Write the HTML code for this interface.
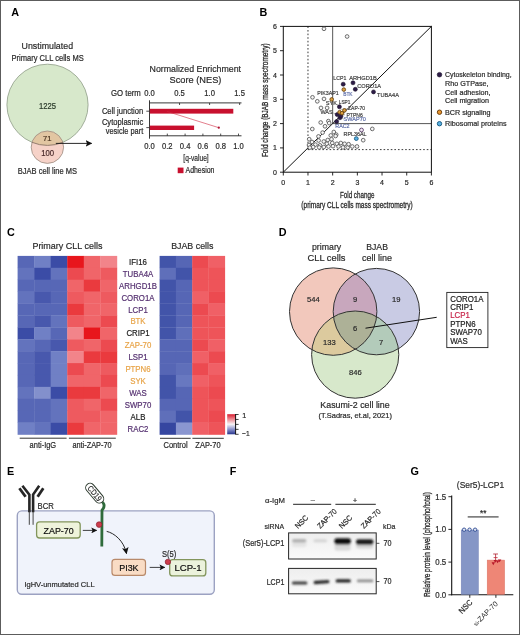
<!DOCTYPE html><html><head><meta charset="utf-8"><style>html,body{margin:0;padding:0;background:#fff;width:520px;height:635px;overflow:hidden}svg{display:block;will-change:transform}text{font-family:"Liberation Sans",sans-serif}</style></head><body>
<svg width="520" height="635" viewBox="0 0 520 635">
<defs><marker id="ah" viewBox="0 0 10 10" refX="9" refY="5" markerWidth="5" markerHeight="5" orient="auto-start-reverse"><path d="M0,0 L10,5 L0,10 z" fill="#111"/></marker><marker id="ah2" viewBox="0 0 10 10" refX="9" refY="5" markerWidth="7.4" markerHeight="7.4" orient="auto-start-reverse"><path d="M0,0 L10,5 L0,10 L2.2,5 z" fill="#111"/></marker><linearGradient id="cbar" x1="0" y1="0" x2="0" y2="1"><stop offset="0" stop-color="#d81e30"/><stop offset="0.25" stop-color="#ee8a92"/><stop offset="0.5" stop-color="#f8f4f6"/><stop offset="0.75" stop-color="#8c92cc"/><stop offset="1" stop-color="#27358e"/></linearGradient></defs>
<rect x="0.00" y="0.00" width="520.00" height="635.00" fill="#fff"/>
<text x="11.20" y="15.90" font-size="10.8" fill="#000" font-weight="bold">A</text>
<text x="259.60" y="16.30" font-size="10.8" fill="#000" font-weight="bold">B</text>
<text x="7.00" y="235.60" font-size="10.8" fill="#000" font-weight="bold">C</text>
<text x="278.80" y="235.50" font-size="10.8" fill="#000" font-weight="bold">D</text>
<text x="6.90" y="474.60" font-size="10.8" fill="#000" font-weight="bold">E</text>
<text x="229.80" y="474.60" font-size="10.8" fill="#000" font-weight="bold">F</text>
<text x="410.40" y="474.80" font-size="10.8" fill="#000" font-weight="bold">G</text>
<text x="47.30" y="49.00" font-size="9.94" text-anchor="middle" fill="#2a2a2a" stroke="#2a2a2a" stroke-width="0.2" textLength="51.50" lengthAdjust="spacingAndGlyphs">Unstimulated</text>
<text x="47.60" y="60.60" font-size="8.21" text-anchor="middle" fill="#2a2a2a" stroke="#2a2a2a" stroke-width="0.2" textLength="72.20" lengthAdjust="spacingAndGlyphs">Primary CLL cells MS</text>
<circle cx="47.50" cy="104.80" r="40.60" fill="#d7e8cb" stroke="#8e9c86" stroke-width="0.8"/>
<clipPath id="bigc"><circle cx="47.5" cy="104.8" r="40.6"/></clipPath>
<circle cx="47.40" cy="147.20" r="16.20" fill="#f6d2c8" stroke="none" stroke-width="1"/>
<g clip-path="url(#bigc)">
<circle cx="47.40" cy="147.20" r="16.20" fill="#e2c6a2" stroke="none" stroke-width="1"/>
</g>
<circle cx="47.40" cy="147.20" r="16.20" fill="none" stroke="#9a8c80" stroke-width="0.8"/>
<clipPath id="smc"><circle cx="47.4" cy="147.2" r="16.2"/></clipPath>
<g clip-path="url(#smc)"><circle cx="47.5" cy="104.8" r="40.6" fill="none" stroke="#8a7466" stroke-width="0.9"/></g>
<text x="47.60" y="109.20" font-size="8.42" text-anchor="middle" fill="#2a3a2a" stroke="#2a3a2a" stroke-width="0.2" textLength="17.00" lengthAdjust="spacingAndGlyphs">1225</text>
<text x="47.20" y="140.80" font-size="7.6" text-anchor="middle" fill="#4a3420" stroke="#4a3420" stroke-width="0.2">71</text>
<text x="47.70" y="156.20" font-size="8.42" text-anchor="middle" fill="#4a2a2a" stroke="#4a2a2a" stroke-width="0.2" textLength="12.90" lengthAdjust="spacingAndGlyphs">100</text>
<text x="47.40" y="173.50" font-size="8.21" text-anchor="middle" fill="#2a2a2a" stroke="#2a2a2a" stroke-width="0.2" textLength="59.30" lengthAdjust="spacingAndGlyphs">BJAB cell line MS</text>
<line x1="55.80" y1="143.40" x2="91.60" y2="143.40" stroke="#111" stroke-width="0.9" marker-end="url(#ah2)"/>
<text x="195.30" y="72.30" font-size="9.94" text-anchor="middle" fill="#2a2a2a" stroke="#2a2a2a" stroke-width="0.2" textLength="91.50" lengthAdjust="spacingAndGlyphs">Normalized Enrichment</text>
<text x="195.50" y="83.10" font-size="9.94" text-anchor="middle" fill="#2a2a2a" stroke="#2a2a2a" stroke-width="0.2" textLength="51.80" lengthAdjust="spacingAndGlyphs">Score (NES)</text>
<text x="140.80" y="95.60" font-size="8.42" text-anchor="end" fill="#2a2a2a" stroke="#2a2a2a" stroke-width="0.2" textLength="29.80" lengthAdjust="spacingAndGlyphs">GO term</text>
<text x="149.50" y="95.60" font-size="8.42" text-anchor="middle" fill="#2a2a2a" stroke="#2a2a2a" stroke-width="0.2" textLength="10.60" lengthAdjust="spacingAndGlyphs">0.0</text>
<text x="179.55" y="95.60" font-size="8.42" text-anchor="middle" fill="#2a2a2a" stroke="#2a2a2a" stroke-width="0.2" textLength="10.60" lengthAdjust="spacingAndGlyphs">0.5</text>
<line x1="179.55" y1="102.90" x2="179.55" y2="105.00" stroke="#222" stroke-width="0.8"/>
<text x="209.60" y="95.60" font-size="8.42" text-anchor="middle" fill="#2a2a2a" stroke="#2a2a2a" stroke-width="0.2" textLength="10.60" lengthAdjust="spacingAndGlyphs">1.0</text>
<line x1="209.60" y1="102.90" x2="209.60" y2="105.00" stroke="#222" stroke-width="0.8"/>
<text x="239.65" y="95.60" font-size="8.42" text-anchor="middle" fill="#2a2a2a" stroke="#2a2a2a" stroke-width="0.2" textLength="10.60" lengthAdjust="spacingAndGlyphs">1.5</text>
<line x1="239.65" y1="102.90" x2="239.65" y2="105.00" stroke="#222" stroke-width="0.8"/>
<line x1="149.50" y1="102.90" x2="241.50" y2="102.90" stroke="#222" stroke-width="0.9"/>
<line x1="149.50" y1="135.80" x2="241.50" y2="135.80" stroke="#222" stroke-width="0.9"/>
<line x1="149.50" y1="100.30" x2="149.50" y2="138.70" stroke="#222" stroke-width="0.9"/>
<line x1="167.30" y1="135.80" x2="167.30" y2="133.60" stroke="#222" stroke-width="0.8"/>
<line x1="185.10" y1="135.80" x2="185.10" y2="133.60" stroke="#222" stroke-width="0.8"/>
<line x1="202.90" y1="135.80" x2="202.90" y2="133.60" stroke="#222" stroke-width="0.8"/>
<line x1="220.70" y1="135.80" x2="220.70" y2="133.60" stroke="#222" stroke-width="0.8"/>
<line x1="238.50" y1="135.80" x2="238.50" y2="133.60" stroke="#222" stroke-width="0.8"/>
<text x="149.50" y="148.60" font-size="8.42" text-anchor="middle" fill="#2a2a2a" stroke="#2a2a2a" stroke-width="0.2" textLength="10.60" lengthAdjust="spacingAndGlyphs">0.0</text>
<text x="167.30" y="148.60" font-size="8.42" text-anchor="middle" fill="#2a2a2a" stroke="#2a2a2a" stroke-width="0.2" textLength="10.60" lengthAdjust="spacingAndGlyphs">0.2</text>
<text x="185.10" y="148.60" font-size="8.42" text-anchor="middle" fill="#2a2a2a" stroke="#2a2a2a" stroke-width="0.2" textLength="10.60" lengthAdjust="spacingAndGlyphs">0.4</text>
<text x="202.90" y="148.60" font-size="8.42" text-anchor="middle" fill="#2a2a2a" stroke="#2a2a2a" stroke-width="0.2" textLength="10.60" lengthAdjust="spacingAndGlyphs">0.6</text>
<text x="220.70" y="148.60" font-size="8.42" text-anchor="middle" fill="#2a2a2a" stroke="#2a2a2a" stroke-width="0.2" textLength="10.60" lengthAdjust="spacingAndGlyphs">0.8</text>
<text x="238.50" y="148.60" font-size="8.42" text-anchor="middle" fill="#2a2a2a" stroke="#2a2a2a" stroke-width="0.2" textLength="10.60" lengthAdjust="spacingAndGlyphs">1.0</text>
<line x1="146.30" y1="111.20" x2="149.50" y2="111.20" stroke="#222" stroke-width="0.8"/>
<line x1="146.30" y1="127.60" x2="149.50" y2="127.60" stroke="#222" stroke-width="0.8"/>
<rect x="149.90" y="108.80" width="83.40" height="4.80" fill="#c8102e"/>
<rect x="149.90" y="125.60" width="44.20" height="4.40" fill="#c8102e"/>
<line x1="166.90" y1="111.40" x2="218.80" y2="127.70" stroke="#d02840" stroke-width="0.6"/>
<circle cx="218.80" cy="127.70" r="1.10" fill="#b01030" stroke="none" stroke-width="1"/>
<text x="143.20" y="113.50" font-size="8.21" text-anchor="end" fill="#2a2a2a" stroke="#2a2a2a" stroke-width="0.2" textLength="41.30" lengthAdjust="spacingAndGlyphs">Cell junction</text>
<text x="143.20" y="125.40" font-size="8.21" text-anchor="end" fill="#2a2a2a" stroke="#2a2a2a" stroke-width="0.2" textLength="41.30" lengthAdjust="spacingAndGlyphs">Cytoplasmic</text>
<text x="143.20" y="134.30" font-size="8.21" text-anchor="end" fill="#2a2a2a" stroke="#2a2a2a" stroke-width="0.2" textLength="37.40" lengthAdjust="spacingAndGlyphs">vesicle part</text>
<text x="196.00" y="161.30" font-size="8.86" text-anchor="middle" fill="#2a2a2a" stroke="#2a2a2a" stroke-width="0.2" textLength="25.40" lengthAdjust="spacingAndGlyphs">[q-value]</text>
<rect x="177.70" y="167.60" width="5.80" height="5.60" fill="#c8102e"/>
<text x="185.50" y="173.00" font-size="8.21" fill="#2a2a2a" stroke="#2a2a2a" stroke-width="0.2" textLength="29.00" lengthAdjust="spacingAndGlyphs">Adhesion</text>
<line x1="307.98" y1="26.40" x2="307.98" y2="149.60" stroke="#222" stroke-width="0.9" stroke-dasharray="1.6,2.0"/>
<line x1="307.98" y1="149.60" x2="431.40" y2="149.60" stroke="#222" stroke-width="0.9" stroke-dasharray="1.6,2.0"/>
<line x1="332.67" y1="26.40" x2="332.67" y2="123.60" stroke="#444" stroke-width="0.9"/>
<line x1="332.67" y1="123.60" x2="431.40" y2="123.60" stroke="#444" stroke-width="0.9"/>
<line x1="283.30" y1="172.20" x2="431.40" y2="26.40" stroke="#111" stroke-width="1.0"/>
<rect x="283.30" y="26.40" width="148.10" height="145.80" fill="none" stroke="#111" stroke-width="1"/>
<line x1="280.00" y1="172.20" x2="283.30" y2="172.20" stroke="#111" stroke-width="0.9"/>
<text x="277.00" y="174.70" font-size="7.0" text-anchor="end" fill="#2a2a2a" stroke="#2a2a2a" stroke-width="0.2">0</text>
<line x1="283.30" y1="172.20" x2="283.30" y2="175.50" stroke="#111" stroke-width="0.9"/>
<text x="283.30" y="184.60" font-size="7.0" text-anchor="middle" fill="#2a2a2a" stroke="#2a2a2a" stroke-width="0.2">0</text>
<line x1="280.00" y1="147.90" x2="283.30" y2="147.90" stroke="#111" stroke-width="0.9"/>
<text x="277.00" y="150.40" font-size="7.0" text-anchor="end" fill="#2a2a2a" stroke="#2a2a2a" stroke-width="0.2">1</text>
<line x1="307.98" y1="172.20" x2="307.98" y2="175.50" stroke="#111" stroke-width="0.9"/>
<text x="307.98" y="184.60" font-size="7.0" text-anchor="middle" fill="#2a2a2a" stroke="#2a2a2a" stroke-width="0.2">1</text>
<line x1="280.00" y1="123.60" x2="283.30" y2="123.60" stroke="#111" stroke-width="0.9"/>
<text x="277.00" y="126.10" font-size="7.0" text-anchor="end" fill="#2a2a2a" stroke="#2a2a2a" stroke-width="0.2">2</text>
<line x1="332.67" y1="172.20" x2="332.67" y2="175.50" stroke="#111" stroke-width="0.9"/>
<text x="332.67" y="184.60" font-size="7.0" text-anchor="middle" fill="#2a2a2a" stroke="#2a2a2a" stroke-width="0.2">2</text>
<line x1="280.00" y1="99.30" x2="283.30" y2="99.30" stroke="#111" stroke-width="0.9"/>
<text x="277.00" y="101.80" font-size="7.0" text-anchor="end" fill="#2a2a2a" stroke="#2a2a2a" stroke-width="0.2">3</text>
<line x1="357.35" y1="172.20" x2="357.35" y2="175.50" stroke="#111" stroke-width="0.9"/>
<text x="357.35" y="184.60" font-size="7.0" text-anchor="middle" fill="#2a2a2a" stroke="#2a2a2a" stroke-width="0.2">3</text>
<line x1="280.00" y1="75.00" x2="283.30" y2="75.00" stroke="#111" stroke-width="0.9"/>
<text x="277.00" y="77.50" font-size="7.0" text-anchor="end" fill="#2a2a2a" stroke="#2a2a2a" stroke-width="0.2">4</text>
<line x1="382.03" y1="172.20" x2="382.03" y2="175.50" stroke="#111" stroke-width="0.9"/>
<text x="382.03" y="184.60" font-size="7.0" text-anchor="middle" fill="#2a2a2a" stroke="#2a2a2a" stroke-width="0.2">4</text>
<line x1="280.00" y1="50.70" x2="283.30" y2="50.70" stroke="#111" stroke-width="0.9"/>
<text x="277.00" y="53.20" font-size="7.0" text-anchor="end" fill="#2a2a2a" stroke="#2a2a2a" stroke-width="0.2">5</text>
<line x1="406.72" y1="172.20" x2="406.72" y2="175.50" stroke="#111" stroke-width="0.9"/>
<text x="406.72" y="184.60" font-size="7.0" text-anchor="middle" fill="#2a2a2a" stroke="#2a2a2a" stroke-width="0.2">5</text>
<line x1="280.00" y1="26.40" x2="283.30" y2="26.40" stroke="#111" stroke-width="0.9"/>
<text x="277.00" y="28.90" font-size="7.0" text-anchor="end" fill="#2a2a2a" stroke="#2a2a2a" stroke-width="0.2">6</text>
<line x1="431.40" y1="172.20" x2="431.40" y2="175.50" stroke="#111" stroke-width="0.9"/>
<text x="431.40" y="184.60" font-size="7.0" text-anchor="middle" fill="#2a2a2a" stroke="#2a2a2a" stroke-width="0.2">6</text>
<text x="357.20" y="197.60" font-size="9.29" text-anchor="middle" fill="#2a2a2a" stroke="#2a2a2a" stroke-width="0.3" textLength="34.50" lengthAdjust="spacingAndGlyphs">Fold change</text>
<text x="357.00" y="208.20" font-size="9.07" text-anchor="middle" fill="#2a2a2a" stroke="#2a2a2a" stroke-width="0.3" textLength="111.30" lengthAdjust="spacingAndGlyphs">(primary CLL cells mass spectrometry)</text>
<text x="267.80" y="100.20" font-size="9.5" text-anchor="middle" fill="#2a2a2a" stroke="#2a2a2a" stroke-width="0.3" textLength="113.70" lengthAdjust="spacingAndGlyphs" transform="rotate(-90 267.80 100.20)">Fold change (BJAB mass spectrometry)</text>
<circle cx="324.00" cy="28.80" r="1.85" fill="#f6f6f6" stroke="#555" stroke-width="0.85"/>
<circle cx="347.10" cy="36.50" r="1.85" fill="#f6f6f6" stroke="#555" stroke-width="0.85"/>
<circle cx="312.50" cy="97.30" r="1.85" fill="#f6f6f6" stroke="#555" stroke-width="0.85"/>
<circle cx="317.30" cy="101.30" r="1.85" fill="#f6f6f6" stroke="#555" stroke-width="0.85"/>
<circle cx="324.00" cy="98.90" r="1.85" fill="#f6f6f6" stroke="#555" stroke-width="0.85"/>
<circle cx="321.00" cy="107.90" r="1.85" fill="#f6f6f6" stroke="#555" stroke-width="0.85"/>
<circle cx="327.10" cy="107.90" r="1.85" fill="#f6f6f6" stroke="#555" stroke-width="0.85"/>
<circle cx="320.70" cy="122.50" r="1.85" fill="#f6f6f6" stroke="#555" stroke-width="0.85"/>
<circle cx="328.40" cy="121.10" r="1.85" fill="#f6f6f6" stroke="#555" stroke-width="0.85"/>
<circle cx="325.00" cy="126.30" r="1.85" fill="#f6f6f6" stroke="#555" stroke-width="0.85"/>
<circle cx="329.20" cy="123.10" r="1.85" fill="#f6f6f6" stroke="#555" stroke-width="0.85"/>
<circle cx="312.30" cy="129.00" r="1.85" fill="#f6f6f6" stroke="#555" stroke-width="0.85"/>
<circle cx="333.80" cy="132.00" r="1.85" fill="#f6f6f6" stroke="#555" stroke-width="0.85"/>
<circle cx="336.20" cy="134.60" r="1.85" fill="#f6f6f6" stroke="#555" stroke-width="0.85"/>
<circle cx="330.80" cy="135.40" r="1.85" fill="#f6f6f6" stroke="#555" stroke-width="0.85"/>
<circle cx="318.50" cy="136.40" r="1.85" fill="#f6f6f6" stroke="#555" stroke-width="0.85"/>
<circle cx="335.60" cy="136.00" r="1.85" fill="#f6f6f6" stroke="#555" stroke-width="0.85"/>
<circle cx="309.20" cy="139.20" r="1.85" fill="#f6f6f6" stroke="#555" stroke-width="0.85"/>
<circle cx="312.00" cy="142.00" r="1.85" fill="#f6f6f6" stroke="#555" stroke-width="0.85"/>
<circle cx="309.00" cy="145.00" r="1.85" fill="#f6f6f6" stroke="#555" stroke-width="0.85"/>
<circle cx="315.40" cy="144.60" r="1.85" fill="#f6f6f6" stroke="#555" stroke-width="0.85"/>
<circle cx="320.00" cy="145.40" r="1.85" fill="#f6f6f6" stroke="#555" stroke-width="0.85"/>
<circle cx="323.80" cy="141.50" r="1.85" fill="#f6f6f6" stroke="#555" stroke-width="0.85"/>
<circle cx="327.70" cy="140.00" r="1.85" fill="#f6f6f6" stroke="#555" stroke-width="0.85"/>
<circle cx="331.50" cy="139.20" r="1.85" fill="#f6f6f6" stroke="#555" stroke-width="0.85"/>
<circle cx="326.90" cy="143.80" r="1.85" fill="#f6f6f6" stroke="#555" stroke-width="0.85"/>
<circle cx="332.30" cy="143.00" r="1.85" fill="#f6f6f6" stroke="#555" stroke-width="0.85"/>
<circle cx="336.90" cy="143.80" r="1.85" fill="#f6f6f6" stroke="#555" stroke-width="0.85"/>
<circle cx="340.80" cy="143.00" r="1.85" fill="#f6f6f6" stroke="#555" stroke-width="0.85"/>
<circle cx="344.60" cy="143.80" r="1.85" fill="#f6f6f6" stroke="#555" stroke-width="0.85"/>
<circle cx="319.20" cy="147.40" r="1.85" fill="#f6f6f6" stroke="#555" stroke-width="0.85"/>
<circle cx="323.80" cy="147.00" r="1.85" fill="#f6f6f6" stroke="#555" stroke-width="0.85"/>
<circle cx="328.50" cy="146.50" r="1.85" fill="#f6f6f6" stroke="#555" stroke-width="0.85"/>
<circle cx="333.00" cy="146.20" r="1.85" fill="#f6f6f6" stroke="#555" stroke-width="0.85"/>
<circle cx="338.50" cy="146.50" r="1.85" fill="#f6f6f6" stroke="#555" stroke-width="0.85"/>
<circle cx="343.00" cy="147.40" r="1.85" fill="#f6f6f6" stroke="#555" stroke-width="0.85"/>
<circle cx="347.70" cy="147.40" r="1.85" fill="#f6f6f6" stroke="#555" stroke-width="0.85"/>
<circle cx="352.30" cy="146.50" r="1.85" fill="#f6f6f6" stroke="#555" stroke-width="0.85"/>
<circle cx="357.00" cy="146.50" r="1.85" fill="#f6f6f6" stroke="#555" stroke-width="0.85"/>
<circle cx="372.30" cy="128.90" r="1.85" fill="#f6f6f6" stroke="#555" stroke-width="0.85"/>
<circle cx="363.20" cy="140.20" r="1.85" fill="#f6f6f6" stroke="#555" stroke-width="0.85"/>
<circle cx="318.60" cy="140.50" r="1.85" fill="#f6f6f6" stroke="#555" stroke-width="0.85"/>
<circle cx="313.20" cy="147.00" r="1.85" fill="#f6f6f6" stroke="#555" stroke-width="0.85"/>
<circle cx="309.80" cy="147.60" r="1.85" fill="#f6f6f6" stroke="#555" stroke-width="0.85"/>
<circle cx="348.60" cy="144.20" r="1.85" fill="#f6f6f6" stroke="#555" stroke-width="0.85"/>
<circle cx="322.60" cy="132.60" r="1.85" fill="#f6f6f6" stroke="#555" stroke-width="0.85"/>
<circle cx="361.50" cy="130.00" r="1.90" fill="#f4eef6" stroke="#4a2a5a" stroke-width="0.8"/>
<text x="333.30" y="80.10" font-size="6.26" fill="#3c3c3c" stroke="#3c3c3c" stroke-width="0.2" textLength="13.00" lengthAdjust="spacingAndGlyphs">LCP1</text>
<text x="349.20" y="80.10" font-size="6.26" fill="#3c3c3c" stroke="#3c3c3c" stroke-width="0.2" textLength="27.60" lengthAdjust="spacingAndGlyphs">ARHGD1B</text>
<text x="357.30" y="88.30" font-size="6.26" fill="#3c3c3c" stroke="#3c3c3c" stroke-width="0.2" textLength="23.70" lengthAdjust="spacingAndGlyphs">CORO1A</text>
<text x="377.10" y="96.50" font-size="6.26" fill="#3c3c3c" stroke="#3c3c3c" stroke-width="0.2" textLength="21.80" lengthAdjust="spacingAndGlyphs">TUBA4A</text>
<text x="317.30" y="95.20" font-size="6.26" fill="#3c3c3c" stroke="#3c3c3c" stroke-width="0.2" textLength="21.50" lengthAdjust="spacingAndGlyphs">PIK3AP1</text>
<text x="343.20" y="95.60" font-size="6.26" fill="#5f6fa8" stroke="#5f6fa8" stroke-width="0.2" textLength="9.40" lengthAdjust="spacingAndGlyphs">BTK</text>
<text x="325.80" y="105.00" font-size="6.26" fill="#3c3c3c" stroke="#3c3c3c" stroke-width="0.2" textLength="11.20" lengthAdjust="spacingAndGlyphs">SYK</text>
<text x="338.80" y="103.50" font-size="6.26" fill="#3c3c3c" stroke="#3c3c3c" stroke-width="0.2" textLength="11.60" lengthAdjust="spacingAndGlyphs">LSP1</text>
<text x="348.00" y="110.40" font-size="6.26" fill="#3c3c3c" stroke="#3c3c3c" stroke-width="0.2" textLength="17.00" lengthAdjust="spacingAndGlyphs">ZAP-70</text>
<text x="320.40" y="113.90" font-size="6.26" fill="#3c3c3c" stroke="#3c3c3c" stroke-width="0.2" textLength="12.30" lengthAdjust="spacingAndGlyphs">WAS</text>
<text x="346.50" y="116.50" font-size="6.26" fill="#3c3c3c" stroke="#3c3c3c" stroke-width="0.2" textLength="16.20" lengthAdjust="spacingAndGlyphs">PTPN6</text>
<text x="343.50" y="121.20" font-size="6.26" fill="#5f6fa8" stroke="#5f6fa8" stroke-width="0.2" textLength="22.30" lengthAdjust="spacingAndGlyphs">SWAP70</text>
<text x="335.30" y="127.80" font-size="6.26" fill="#5f6fa8" stroke="#5f6fa8" stroke-width="0.2" textLength="14.30" lengthAdjust="spacingAndGlyphs">RAC2</text>
<text x="343.50" y="135.80" font-size="6.26" fill="#3c3c3c" stroke="#3c3c3c" stroke-width="0.2" textLength="23.00" lengthAdjust="spacingAndGlyphs">RPL36AL</text>
<line x1="340.40" y1="109.50" x2="346.50" y2="108.60" stroke="#666" stroke-width="0.5"/>
<line x1="338.20" y1="113.80" x2="345.00" y2="114.80" stroke="#666" stroke-width="0.5"/>
<line x1="340.80" y1="117.80" x2="343.80" y2="119.20" stroke="#666" stroke-width="0.5"/>
<line x1="337.00" y1="121.60" x2="335.40" y2="125.20" stroke="#666" stroke-width="0.5"/>
<line x1="356.40" y1="136.80" x2="356.30" y2="138.00" stroke="#666" stroke-width="0.5"/>
<line x1="339.00" y1="106.00" x2="341.00" y2="102.50" stroke="#666" stroke-width="0.5"/>
<line x1="333.30" y1="113.00" x2="336.50" y2="114.20" stroke="#666" stroke-width="0.5"/>
<line x1="337.00" y1="104.00" x2="338.80" y2="106.00" stroke="#666" stroke-width="0.5"/>
<circle cx="343.20" cy="84.20" r="2.00" fill="#2e1c48" stroke="#1a1028" stroke-width="0.6"/>
<circle cx="353.00" cy="82.80" r="2.00" fill="#2e1c48" stroke="#1a1028" stroke-width="0.6"/>
<circle cx="355.30" cy="89.30" r="2.00" fill="#2e1c48" stroke="#1a1028" stroke-width="0.6"/>
<circle cx="373.50" cy="91.90" r="2.00" fill="#2e1c48" stroke="#1a1028" stroke-width="0.6"/>
<circle cx="339.40" cy="106.80" r="2.00" fill="#2e1c48" stroke="#1a1028" stroke-width="0.6"/>
<circle cx="337.20" cy="114.60" r="2.00" fill="#2e1c48" stroke="#1a1028" stroke-width="0.6"/>
<circle cx="339.90" cy="117.80" r="2.00" fill="#2e1c48" stroke="#1a1028" stroke-width="0.6"/>
<circle cx="336.60" cy="121.50" r="2.00" fill="#2e1c48" stroke="#1a1028" stroke-width="0.6"/>
<circle cx="341.00" cy="116.00" r="2.00" fill="#2e1c48" stroke="#1a1028" stroke-width="0.6"/>
<circle cx="343.80" cy="89.60" r="1.80" fill="#dca040" stroke="#6a4410" stroke-width="0.9"/>
<circle cx="331.70" cy="99.40" r="1.80" fill="#dca040" stroke="#6a4410" stroke-width="0.9"/>
<circle cx="339.60" cy="112.20" r="1.80" fill="#dca040" stroke="#6a4410" stroke-width="0.9"/>
<circle cx="344.40" cy="110.40" r="1.80" fill="#dca040" stroke="#6a4410" stroke-width="0.9"/>
<circle cx="342.00" cy="113.20" r="1.80" fill="#dca040" stroke="#6a4410" stroke-width="0.9"/>
<circle cx="356.30" cy="138.60" r="1.90" fill="#5ab0e0" stroke="#155a82" stroke-width="0.9"/>
<circle cx="439.50" cy="74.70" r="2.30" fill="#2e1c48" stroke="#1a1028" stroke-width="0.6"/>
<circle cx="439.50" cy="112.20" r="2.20" fill="#e8952e" stroke="#6a3c08" stroke-width="0.95"/>
<circle cx="439.50" cy="123.70" r="2.20" fill="#5ab0e0" stroke="#155a82" stroke-width="0.95"/>
<text x="445.00" y="77.30" font-size="7.78" fill="#2a2a2a" stroke="#2a2a2a" stroke-width="0.2" textLength="66.70" lengthAdjust="spacingAndGlyphs">Cytoskeleton binding,</text>
<text x="445.00" y="86.10" font-size="7.2" fill="#2a2a2a" stroke="#2a2a2a" stroke-width="0.2">Rho GTPase,</text>
<text x="445.00" y="94.60" font-size="7.2" fill="#2a2a2a" stroke="#2a2a2a" stroke-width="0.2">Cell adhesion,</text>
<text x="445.00" y="103.30" font-size="7.2" fill="#2a2a2a" stroke="#2a2a2a" stroke-width="0.2">Cell migration</text>
<text x="445.00" y="114.60" font-size="7.2" fill="#2a2a2a" stroke="#2a2a2a" stroke-width="0.2">BCR signaling</text>
<text x="445.00" y="125.80" font-size="7.2" fill="#2a2a2a" stroke="#2a2a2a" stroke-width="0.2">Ribosomal proteins</text>
<rect x="17.60" y="255.90" width="16.85" height="12.21" fill="#5767b6"/>
<rect x="34.15" y="255.90" width="16.85" height="12.21" fill="#7080c5"/>
<rect x="50.70" y="255.90" width="16.85" height="12.21" fill="#3b4ca6"/>
<rect x="67.25" y="255.90" width="16.85" height="12.21" fill="#e8161c"/>
<rect x="83.80" y="255.90" width="16.85" height="12.21" fill="#f06569"/>
<rect x="100.35" y="255.90" width="16.85" height="12.21" fill="#f2848a"/>
<rect x="17.60" y="267.81" width="16.85" height="12.21" fill="#6373bd"/>
<rect x="34.15" y="267.81" width="16.85" height="12.21" fill="#3b4ca6"/>
<rect x="50.70" y="267.81" width="16.85" height="12.21" fill="#6373bd"/>
<rect x="67.25" y="267.81" width="16.85" height="12.21" fill="#ec4a50"/>
<rect x="83.80" y="267.81" width="16.85" height="12.21" fill="#f06569"/>
<rect x="100.35" y="267.81" width="16.85" height="12.21" fill="#ee5a5f"/>
<rect x="17.60" y="279.71" width="16.85" height="12.21" fill="#5767b6"/>
<rect x="34.15" y="279.71" width="16.85" height="12.21" fill="#5767b6"/>
<rect x="50.70" y="279.71" width="16.85" height="12.21" fill="#5767b6"/>
<rect x="67.25" y="279.71" width="16.85" height="12.21" fill="#f06569"/>
<rect x="83.80" y="279.71" width="16.85" height="12.21" fill="#ea3a3e"/>
<rect x="100.35" y="279.71" width="16.85" height="12.21" fill="#f06569"/>
<rect x="17.60" y="291.62" width="16.85" height="12.21" fill="#6373bd"/>
<rect x="34.15" y="291.62" width="16.85" height="12.21" fill="#4858ad"/>
<rect x="50.70" y="291.62" width="16.85" height="12.21" fill="#5767b6"/>
<rect x="67.25" y="291.62" width="16.85" height="12.21" fill="#ee5a5f"/>
<rect x="83.80" y="291.62" width="16.85" height="12.21" fill="#f06569"/>
<rect x="100.35" y="291.62" width="16.85" height="12.21" fill="#ee5a5f"/>
<rect x="17.60" y="303.53" width="16.85" height="12.21" fill="#5767b6"/>
<rect x="34.15" y="303.53" width="16.85" height="12.21" fill="#5767b6"/>
<rect x="50.70" y="303.53" width="16.85" height="12.21" fill="#5767b6"/>
<rect x="67.25" y="303.53" width="16.85" height="12.21" fill="#ea3a3e"/>
<rect x="83.80" y="303.53" width="16.85" height="12.21" fill="#f06569"/>
<rect x="100.35" y="303.53" width="16.85" height="12.21" fill="#f06569"/>
<rect x="17.60" y="315.43" width="16.85" height="12.21" fill="#5767b6"/>
<rect x="34.15" y="315.43" width="16.85" height="12.21" fill="#4858ad"/>
<rect x="50.70" y="315.43" width="16.85" height="12.21" fill="#6373bd"/>
<rect x="67.25" y="315.43" width="16.85" height="12.21" fill="#ee5a5f"/>
<rect x="83.80" y="315.43" width="16.85" height="12.21" fill="#f06569"/>
<rect x="100.35" y="315.43" width="16.85" height="12.21" fill="#ec4a50"/>
<rect x="17.60" y="327.34" width="16.85" height="12.21" fill="#3b4ca6"/>
<rect x="34.15" y="327.34" width="16.85" height="12.21" fill="#7080c5"/>
<rect x="50.70" y="327.34" width="16.85" height="12.21" fill="#5767b6"/>
<rect x="67.25" y="327.34" width="16.85" height="12.21" fill="#f2848a"/>
<rect x="83.80" y="327.34" width="16.85" height="12.21" fill="#e8161c"/>
<rect x="100.35" y="327.34" width="16.85" height="12.21" fill="#f06569"/>
<rect x="17.60" y="339.25" width="16.85" height="12.21" fill="#6373bd"/>
<rect x="34.15" y="339.25" width="16.85" height="12.21" fill="#5767b6"/>
<rect x="50.70" y="339.25" width="16.85" height="12.21" fill="#4858ad"/>
<rect x="67.25" y="339.25" width="16.85" height="12.21" fill="#ee5a5f"/>
<rect x="83.80" y="339.25" width="16.85" height="12.21" fill="#f06569"/>
<rect x="100.35" y="339.25" width="16.85" height="12.21" fill="#ec4a50"/>
<rect x="17.60" y="351.15" width="16.85" height="12.21" fill="#5767b6"/>
<rect x="34.15" y="351.15" width="16.85" height="12.21" fill="#4858ad"/>
<rect x="50.70" y="351.15" width="16.85" height="12.21" fill="#7080c5"/>
<rect x="67.25" y="351.15" width="16.85" height="12.21" fill="#f2848a"/>
<rect x="83.80" y="351.15" width="16.85" height="12.21" fill="#ea3a3e"/>
<rect x="100.35" y="351.15" width="16.85" height="12.21" fill="#ea3a3e"/>
<rect x="17.60" y="363.06" width="16.85" height="12.21" fill="#5767b6"/>
<rect x="34.15" y="363.06" width="16.85" height="12.21" fill="#4858ad"/>
<rect x="50.70" y="363.06" width="16.85" height="12.21" fill="#7080c5"/>
<rect x="67.25" y="363.06" width="16.85" height="12.21" fill="#ec4a50"/>
<rect x="83.80" y="363.06" width="16.85" height="12.21" fill="#f06569"/>
<rect x="100.35" y="363.06" width="16.85" height="12.21" fill="#ee5a5f"/>
<rect x="17.60" y="374.97" width="16.85" height="12.21" fill="#5767b6"/>
<rect x="34.15" y="374.97" width="16.85" height="12.21" fill="#4858ad"/>
<rect x="50.70" y="374.97" width="16.85" height="12.21" fill="#7080c5"/>
<rect x="67.25" y="374.97" width="16.85" height="12.21" fill="#f06569"/>
<rect x="83.80" y="374.97" width="16.85" height="12.21" fill="#f06569"/>
<rect x="100.35" y="374.97" width="16.85" height="12.21" fill="#ec4a50"/>
<rect x="17.60" y="386.87" width="16.85" height="12.21" fill="#6373bd"/>
<rect x="34.15" y="386.87" width="16.85" height="12.21" fill="#8390cc"/>
<rect x="50.70" y="386.87" width="16.85" height="12.21" fill="#3b4ca6"/>
<rect x="67.25" y="386.87" width="16.85" height="12.21" fill="#ea3a3e"/>
<rect x="83.80" y="386.87" width="16.85" height="12.21" fill="#ea3a3e"/>
<rect x="100.35" y="386.87" width="16.85" height="12.21" fill="#f06569"/>
<rect x="17.60" y="398.78" width="16.85" height="12.21" fill="#5767b6"/>
<rect x="34.15" y="398.78" width="16.85" height="12.21" fill="#5767b6"/>
<rect x="50.70" y="398.78" width="16.85" height="12.21" fill="#6373bd"/>
<rect x="67.25" y="398.78" width="16.85" height="12.21" fill="#ee5a5f"/>
<rect x="83.80" y="398.78" width="16.85" height="12.21" fill="#f06569"/>
<rect x="100.35" y="398.78" width="16.85" height="12.21" fill="#ec4a50"/>
<rect x="17.60" y="410.69" width="16.85" height="12.21" fill="#5767b6"/>
<rect x="34.15" y="410.69" width="16.85" height="12.21" fill="#5767b6"/>
<rect x="50.70" y="410.69" width="16.85" height="12.21" fill="#6373bd"/>
<rect x="67.25" y="410.69" width="16.85" height="12.21" fill="#ee5a5f"/>
<rect x="83.80" y="410.69" width="16.85" height="12.21" fill="#ee5a5f"/>
<rect x="100.35" y="410.69" width="16.85" height="12.21" fill="#f06569"/>
<rect x="17.60" y="422.59" width="16.85" height="12.21" fill="#7080c5"/>
<rect x="34.15" y="422.59" width="16.85" height="12.21" fill="#6373bd"/>
<rect x="50.70" y="422.59" width="16.85" height="12.21" fill="#3b4ca6"/>
<rect x="67.25" y="422.59" width="16.85" height="12.21" fill="#ea3a3e"/>
<rect x="83.80" y="422.59" width="16.85" height="12.21" fill="#f06569"/>
<rect x="100.35" y="422.59" width="16.85" height="12.21" fill="#f06569"/>
<rect x="159.60" y="255.90" width="16.60" height="12.21" fill="#4254a9"/>
<rect x="175.90" y="255.90" width="16.60" height="12.21" fill="#5666b5"/>
<rect x="192.20" y="255.90" width="16.60" height="12.21" fill="#ec4a50"/>
<rect x="208.50" y="255.90" width="16.60" height="12.21" fill="#f06066"/>
<rect x="159.60" y="267.81" width="16.60" height="12.21" fill="#5f6fba"/>
<rect x="175.90" y="267.81" width="16.60" height="12.21" fill="#4254a9"/>
<rect x="192.20" y="267.81" width="16.60" height="12.21" fill="#ee5459"/>
<rect x="208.50" y="267.81" width="16.60" height="12.21" fill="#ee5459"/>
<rect x="159.60" y="279.71" width="16.60" height="12.21" fill="#4254a9"/>
<rect x="175.90" y="279.71" width="16.60" height="12.21" fill="#5666b5"/>
<rect x="192.20" y="279.71" width="16.60" height="12.21" fill="#ee5459"/>
<rect x="208.50" y="279.71" width="16.60" height="12.21" fill="#ee5459"/>
<rect x="159.60" y="291.62" width="16.60" height="12.21" fill="#4254a9"/>
<rect x="175.90" y="291.62" width="16.60" height="12.21" fill="#5666b5"/>
<rect x="192.20" y="291.62" width="16.60" height="12.21" fill="#f06066"/>
<rect x="208.50" y="291.62" width="16.60" height="12.21" fill="#ec4a50"/>
<rect x="159.60" y="303.53" width="16.60" height="12.21" fill="#4254a9"/>
<rect x="175.90" y="303.53" width="16.60" height="12.21" fill="#5666b5"/>
<rect x="192.20" y="303.53" width="16.60" height="12.21" fill="#ec4a50"/>
<rect x="208.50" y="303.53" width="16.60" height="12.21" fill="#f06066"/>
<rect x="159.60" y="315.43" width="16.60" height="12.21" fill="#4254a9"/>
<rect x="175.90" y="315.43" width="16.60" height="12.21" fill="#5666b5"/>
<rect x="192.20" y="315.43" width="16.60" height="12.21" fill="#ee5459"/>
<rect x="208.50" y="315.43" width="16.60" height="12.21" fill="#ee5459"/>
<rect x="159.60" y="327.34" width="16.60" height="12.21" fill="#4254a9"/>
<rect x="175.90" y="327.34" width="16.60" height="12.21" fill="#5f6fba"/>
<rect x="192.20" y="327.34" width="16.60" height="12.21" fill="#ee5459"/>
<rect x="208.50" y="327.34" width="16.60" height="12.21" fill="#ee5459"/>
<rect x="159.60" y="339.25" width="16.60" height="12.21" fill="#5666b5"/>
<rect x="175.90" y="339.25" width="16.60" height="12.21" fill="#5666b5"/>
<rect x="192.20" y="339.25" width="16.60" height="12.21" fill="#ec4a50"/>
<rect x="208.50" y="339.25" width="16.60" height="12.21" fill="#f06066"/>
<rect x="159.60" y="351.15" width="16.60" height="12.21" fill="#5666b5"/>
<rect x="175.90" y="351.15" width="16.60" height="12.21" fill="#5666b5"/>
<rect x="192.20" y="351.15" width="16.60" height="12.21" fill="#f06066"/>
<rect x="208.50" y="351.15" width="16.60" height="12.21" fill="#ec4a50"/>
<rect x="159.60" y="363.06" width="16.60" height="12.21" fill="#5666b5"/>
<rect x="175.90" y="363.06" width="16.60" height="12.21" fill="#5f6fba"/>
<rect x="192.20" y="363.06" width="16.60" height="12.21" fill="#ec4a50"/>
<rect x="208.50" y="363.06" width="16.60" height="12.21" fill="#f06066"/>
<rect x="159.60" y="374.97" width="16.60" height="12.21" fill="#4254a9"/>
<rect x="175.90" y="374.97" width="16.60" height="12.21" fill="#6878c0"/>
<rect x="192.20" y="374.97" width="16.60" height="12.21" fill="#f06066"/>
<rect x="208.50" y="374.97" width="16.60" height="12.21" fill="#ee5459"/>
<rect x="159.60" y="386.87" width="16.60" height="12.21" fill="#4254a9"/>
<rect x="175.90" y="386.87" width="16.60" height="12.21" fill="#5666b5"/>
<rect x="192.20" y="386.87" width="16.60" height="12.21" fill="#ee5459"/>
<rect x="208.50" y="386.87" width="16.60" height="12.21" fill="#ec4a50"/>
<rect x="159.60" y="398.78" width="16.60" height="12.21" fill="#5666b5"/>
<rect x="175.90" y="398.78" width="16.60" height="12.21" fill="#5666b5"/>
<rect x="192.20" y="398.78" width="16.60" height="12.21" fill="#ee5459"/>
<rect x="208.50" y="398.78" width="16.60" height="12.21" fill="#ee5459"/>
<rect x="159.60" y="410.69" width="16.60" height="12.21" fill="#5f6fba"/>
<rect x="175.90" y="410.69" width="16.60" height="12.21" fill="#4254a9"/>
<rect x="192.20" y="410.69" width="16.60" height="12.21" fill="#ee5459"/>
<rect x="208.50" y="410.69" width="16.60" height="12.21" fill="#ec4a50"/>
<rect x="159.60" y="422.59" width="16.60" height="12.21" fill="#3546a0"/>
<rect x="175.90" y="422.59" width="16.60" height="12.21" fill="#8a96d0"/>
<rect x="192.20" y="422.59" width="16.60" height="12.21" fill="#f06066"/>
<rect x="208.50" y="422.59" width="16.60" height="12.21" fill="#ee5459"/>
<text x="67.40" y="248.80" font-size="9.94" text-anchor="middle" fill="#2a2a2a" stroke="#2a2a2a" stroke-width="0.2" textLength="70.00" lengthAdjust="spacingAndGlyphs">Primary CLL cells</text>
<text x="192.30" y="249.10" font-size="9.94" text-anchor="middle" fill="#2a2a2a" stroke="#2a2a2a" stroke-width="0.2" textLength="42.30" lengthAdjust="spacingAndGlyphs">BJAB cells</text>
<text x="138.00" y="264.95" font-size="8.6" text-anchor="middle" fill="#1c1c1c" stroke="#1c1c1c" stroke-width="0.2" textLength="17.83" lengthAdjust="spacingAndGlyphs">IFI16</text>
<text x="138.00" y="276.86" font-size="8.6" text-anchor="middle" fill="#553070" stroke="#553070" stroke-width="0.2" textLength="30.44" lengthAdjust="spacingAndGlyphs">TUBA4A</text>
<text x="138.00" y="288.77" font-size="8.6" text-anchor="middle" fill="#553070" stroke="#553070" stroke-width="0.2" textLength="37.84" lengthAdjust="spacingAndGlyphs">ARHGD1B</text>
<text x="138.00" y="300.67" font-size="8.6" text-anchor="middle" fill="#553070" stroke="#553070" stroke-width="0.2" textLength="33.05" lengthAdjust="spacingAndGlyphs">CORO1A</text>
<text x="138.00" y="312.58" font-size="8.6" text-anchor="middle" fill="#553070" stroke="#553070" stroke-width="0.2" textLength="19.58" lengthAdjust="spacingAndGlyphs">LCP1</text>
<text x="138.00" y="324.49" font-size="8.6" text-anchor="middle" fill="#e8a448" stroke="#e8a448" stroke-width="0.2" textLength="15.22" lengthAdjust="spacingAndGlyphs">BTK</text>
<text x="138.00" y="336.39" font-size="8.6" text-anchor="middle" fill="#1c1c1c" stroke="#1c1c1c" stroke-width="0.2" textLength="23.05" lengthAdjust="spacingAndGlyphs">CRIP1</text>
<text x="138.00" y="348.30" font-size="8.6" text-anchor="middle" fill="#e8a448" stroke="#e8a448" stroke-width="0.2" textLength="26.53" lengthAdjust="spacingAndGlyphs">ZAP-70</text>
<text x="138.00" y="360.21" font-size="8.6" text-anchor="middle" fill="#553070" stroke="#553070" stroke-width="0.2" textLength="19.14" lengthAdjust="spacingAndGlyphs">LSP1</text>
<text x="138.00" y="372.11" font-size="8.6" text-anchor="middle" fill="#e8a448" stroke="#e8a448" stroke-width="0.2" textLength="25.22" lengthAdjust="spacingAndGlyphs">PTPN6</text>
<text x="138.00" y="384.02" font-size="8.6" text-anchor="middle" fill="#e8a448" stroke="#e8a448" stroke-width="0.2" textLength="15.66" lengthAdjust="spacingAndGlyphs">SYK</text>
<text x="138.00" y="395.93" font-size="8.6" text-anchor="middle" fill="#553070" stroke="#553070" stroke-width="0.2" textLength="17.54" lengthAdjust="spacingAndGlyphs">WAS</text>
<text x="138.00" y="407.83" font-size="8.6" text-anchor="middle" fill="#553070" stroke="#553070" stroke-width="0.2" textLength="26.53" lengthAdjust="spacingAndGlyphs">SWP70</text>
<text x="138.00" y="419.74" font-size="8.6" text-anchor="middle" fill="#1c1c1c" stroke="#1c1c1c" stroke-width="0.2" textLength="14.79" lengthAdjust="spacingAndGlyphs">ALB</text>
<text x="138.00" y="431.65" font-size="8.6" text-anchor="middle" fill="#553070" stroke="#553070" stroke-width="0.2" textLength="20.88" lengthAdjust="spacingAndGlyphs">RAC2</text>
<line x1="19.70" y1="438.20" x2="66.60" y2="438.20" stroke="#333" stroke-width="1.0"/>
<line x1="68.90" y1="438.20" x2="115.80" y2="438.20" stroke="#333" stroke-width="1.0"/>
<line x1="160.00" y1="438.30" x2="190.70" y2="438.30" stroke="#333" stroke-width="1.0"/>
<line x1="192.40" y1="438.30" x2="223.80" y2="438.30" stroke="#333" stroke-width="1.0"/>
<text x="42.90" y="448.00" font-size="8.42" text-anchor="middle" fill="#2a2a2a" stroke="#2a2a2a" stroke-width="0.2" textLength="26.60" lengthAdjust="spacingAndGlyphs">anti-IgG</text>
<text x="92.00" y="448.00" font-size="8.42" text-anchor="middle" fill="#2a2a2a" stroke="#2a2a2a" stroke-width="0.2" textLength="39.20" lengthAdjust="spacingAndGlyphs">anti-ZAP-70</text>
<text x="175.60" y="447.80" font-size="8.42" text-anchor="middle" fill="#2a2a2a" stroke="#2a2a2a" stroke-width="0.2" textLength="24.20" lengthAdjust="spacingAndGlyphs">Control</text>
<text x="208.00" y="447.80" font-size="8.42" text-anchor="middle" fill="#2a2a2a" stroke="#2a2a2a" stroke-width="0.2" textLength="25.30" lengthAdjust="spacingAndGlyphs">ZAP-70</text>
<rect x="227.20" y="414.20" width="8.40" height="20.10" fill="url(#cbar)"/>
<line x1="235.60" y1="414.00" x2="235.60" y2="434.50" stroke="#111" stroke-width="1.0"/>
<line x1="235.60" y1="414.50" x2="238.60" y2="414.50" stroke="#111" stroke-width="0.8"/>
<line x1="235.60" y1="419.45" x2="238.60" y2="419.45" stroke="#111" stroke-width="0.8"/>
<line x1="235.60" y1="424.40" x2="238.60" y2="424.40" stroke="#111" stroke-width="0.8"/>
<line x1="235.60" y1="429.35" x2="238.60" y2="429.35" stroke="#111" stroke-width="0.8"/>
<line x1="235.60" y1="434.30" x2="238.60" y2="434.30" stroke="#111" stroke-width="0.8"/>
<text x="244.20" y="418.00" font-size="7.2" text-anchor="middle" fill="#2a2a2a" stroke="#2a2a2a" stroke-width="0.2">1</text>
<text x="242.00" y="436.20" font-size="7.78" fill="#2a2a2a" stroke="#2a2a2a" stroke-width="0.2" textLength="7.60" lengthAdjust="spacingAndGlyphs">−1</text>
<clipPath id="vR"><circle cx="333.2" cy="311.6" r="43.7" fill="#000"/></clipPath>
<clipPath id="vB"><circle cx="376.4" cy="311.6" r="43.2" fill="#000"/></clipPath>
<clipPath id="vG"><circle cx="355.2" cy="354.6" r="43.6" fill="#000"/></clipPath>
<circle cx="333.2" cy="311.6" r="43.7" fill="#f2c8bc"/>
<circle cx="376.4" cy="311.6" r="43.2" fill="#c9cbe4"/>
<circle cx="355.2" cy="354.6" r="43.6" fill="#d7e8cb"/>
<g clip-path="url(#vR)"><circle cx="376.4" cy="311.6" r="43.2" fill="#c8a7bd"/></g>
<g clip-path="url(#vR)"><circle cx="355.2" cy="354.6" r="43.6" fill="#dcca9e"/></g>
<g clip-path="url(#vB)"><circle cx="355.2" cy="354.6" r="43.6" fill="#b3cbba"/></g>
<g clip-path="url(#vR)"><g clip-path="url(#vB)"><circle cx="355.2" cy="354.6" r="43.6" fill="#adb197"/></g></g>
<circle cx="333.2" cy="311.6" r="43.7" fill="none" stroke="#333" stroke-width="1.0"/>
<circle cx="376.4" cy="311.6" r="43.2" fill="none" stroke="#333" stroke-width="1.0"/>
<circle cx="355.2" cy="354.6" r="43.6" fill="none" stroke="#333" stroke-width="1.0"/>
<text x="326.60" y="250.20" font-size="9.94" text-anchor="middle" fill="#2a2a2a" stroke="#2a2a2a" stroke-width="0.2" textLength="29.20" lengthAdjust="spacingAndGlyphs">primary</text>
<text x="326.50" y="261.30" font-size="9.94" text-anchor="middle" fill="#2a2a2a" stroke="#2a2a2a" stroke-width="0.2" textLength="38.00" lengthAdjust="spacingAndGlyphs">CLL cells</text>
<text x="377.10" y="250.00" font-size="9.94" text-anchor="middle" fill="#2a2a2a" stroke="#2a2a2a" stroke-width="0.2" textLength="21.70" lengthAdjust="spacingAndGlyphs">BJAB</text>
<text x="377.00" y="260.50" font-size="9.94" text-anchor="middle" fill="#2a2a2a" stroke="#2a2a2a" stroke-width="0.2" textLength="30.00" lengthAdjust="spacingAndGlyphs">cell line</text>
<text x="313.40" y="301.80" font-size="7.6" text-anchor="middle" fill="#2a2a2a" stroke="#2a2a2a" stroke-width="0.2">544</text>
<text x="355.10" y="301.80" font-size="7.6" text-anchor="middle" fill="#2a2a2a" stroke="#2a2a2a" stroke-width="0.2">9</text>
<text x="396.30" y="302.00" font-size="7.6" text-anchor="middle" fill="#2a2a2a" stroke="#2a2a2a" stroke-width="0.2">19</text>
<text x="355.10" y="330.80" font-size="7.6" text-anchor="middle" fill="#2a2a2a" stroke="#2a2a2a" stroke-width="0.2">6</text>
<text x="329.30" y="345.20" font-size="7.6" text-anchor="middle" fill="#2a2a2a" stroke="#2a2a2a" stroke-width="0.2">133</text>
<text x="381.10" y="345.20" font-size="7.6" text-anchor="middle" fill="#2a2a2a" stroke="#2a2a2a" stroke-width="0.2">7</text>
<text x="355.30" y="374.70" font-size="7.6" text-anchor="middle" fill="#2a2a2a" stroke="#2a2a2a" stroke-width="0.2">846</text>
<line x1="365.50" y1="328.20" x2="436.70" y2="317.30" stroke="#111" stroke-width="1.0"/>
<rect x="446.8" y="292.4" width="41.1" height="55.2" fill="#fff" stroke="#222" stroke-width="0.9"/>
<text x="450.20" y="301.60" font-size="8.3" fill="#1c1c1c" stroke="#1c1c1c" stroke-width="0.2" textLength="33.30" lengthAdjust="spacingAndGlyphs">CORO1A</text>
<text x="450.20" y="310.00" font-size="8.3" fill="#1c1c1c" stroke="#1c1c1c" stroke-width="0.2" textLength="23.22" lengthAdjust="spacingAndGlyphs">CRIP1</text>
<text x="450.20" y="318.40" font-size="8.3" fill="#c8264a" stroke="#c8264a" stroke-width="0.2" textLength="19.72" lengthAdjust="spacingAndGlyphs">LCP1</text>
<text x="450.20" y="326.80" font-size="8.3" fill="#1c1c1c" stroke="#1c1c1c" stroke-width="0.2" textLength="25.41" lengthAdjust="spacingAndGlyphs">PTPN6</text>
<text x="450.20" y="335.20" font-size="8.3" fill="#1c1c1c" stroke="#1c1c1c" stroke-width="0.2" textLength="31.70" lengthAdjust="spacingAndGlyphs">SWAP70</text>
<text x="450.20" y="343.60" font-size="8.3" fill="#1c1c1c" stroke="#1c1c1c" stroke-width="0.2" textLength="17.67" lengthAdjust="spacingAndGlyphs">WAS</text>
<text x="355.00" y="408.20" font-size="9.4" text-anchor="middle" fill="#2a2a2a" stroke="#2a2a2a" stroke-width="0.2" textLength="69.30" lengthAdjust="spacingAndGlyphs">Kasumi-2 cell line</text>
<text x="355.20" y="418.00" font-size="7.56" text-anchor="middle" fill="#2a2a2a" stroke="#2a2a2a" stroke-width="0.2" textLength="73.40" lengthAdjust="spacingAndGlyphs">(T.Sadras, et.al, 2021)</text>
<rect x="17.3" y="510.9" width="197" height="83.3" rx="4.5" fill="#f0f3fb" stroke="#9ca2c2" stroke-width="1.4"/>
<polyline points="22.4,485.8 29.4,494.6 29.4,512.2" fill="none" stroke="#262626" stroke-width="2.6" stroke-linejoin="miter"/>
<polyline points="39.2,485.8 33.1,494.6 33.1,512.2" fill="none" stroke="#262626" stroke-width="2.6" stroke-linejoin="miter"/>
<line x1="19.40" y1="488.20" x2="25.60" y2="496.80" stroke="#262626" stroke-width="2.8"/>
<line x1="43.30" y1="488.20" x2="37.60" y2="496.80" stroke="#262626" stroke-width="2.8"/>
<line x1="29.30" y1="511.00" x2="29.30" y2="524.80" stroke="#333" stroke-width="0.9"/>
<line x1="33.10" y1="511.00" x2="33.10" y2="524.80" stroke="#333" stroke-width="0.9"/>
<text x="37.60" y="509.20" font-size="8.42" fill="#2a2a2a" stroke="#2a2a2a" stroke-width="0.2" textLength="16.20" lengthAdjust="spacingAndGlyphs">BCR</text>
<path d="M102.6,502.0 C105.0,505.0 104.4,507.6 102.0,510.2 L101.8,546.6" fill="none" stroke="#2f6b3b" stroke-width="2.8"/>
<g transform="translate(94.7 493.2) rotate(50)"><rect x="-11.6" y="-4.4" width="23.2" height="8.8" rx="4.4" fill="#fff" stroke="#2c3a2e" stroke-width="1.0"/><text x="0.2" y="2.9" font-size="8" text-anchor="middle" fill="#1e1e1e" stroke="#1e1e1e" stroke-width="0.15" textLength="17.5" lengthAdjust="spacingAndGlyphs">CD19</text></g>
<rect x="36.6" y="521.8" width="43.6" height="16.2" rx="3" fill="#eef3db" stroke="#82955c" stroke-width="1.3"/>
<text x="58.60" y="533.90" font-size="9.94" text-anchor="middle" stroke="#222" stroke-width="0.2" textLength="30.10" lengthAdjust="spacingAndGlyphs">ZAP-70</text>
<line x1="82.80" y1="530.40" x2="96.60" y2="530.40" stroke="#111" stroke-width="0.8" marker-end="url(#ah2)"/>
<circle cx="99.10" cy="524.60" r="2.80" fill="#cc3c4c" stroke="#8a2030" stroke-width="0.7"/>
<path d="M106.7,531.4 C114,533 123.8,540.5 126.5,553.5" fill="none" stroke="#111" stroke-width="0.9" marker-end="url(#ah2)"/>
<rect x="112" y="559.3" width="33.5" height="16.1" rx="3" fill="#f9dcc5" stroke="#b8896a" stroke-width="1.2"/>
<text x="128.90" y="570.80" font-size="9.94" text-anchor="middle" stroke="#222" stroke-width="0.2" textLength="19.40" lengthAdjust="spacingAndGlyphs">PI3K</text>
<line x1="149.70" y1="567.40" x2="164.80" y2="567.40" stroke="#111" stroke-width="0.8" marker-end="url(#ah2)"/>
<rect x="169.7" y="559.7" width="36.1" height="16.2" rx="3" fill="#ebf2dc" stroke="#82955c" stroke-width="1.3"/>
<text x="188.00" y="571.40" font-size="9.94" text-anchor="middle" stroke="#222" stroke-width="0.2" textLength="27.20" lengthAdjust="spacingAndGlyphs">LCP-1</text>
<circle cx="167.90" cy="561.90" r="2.70" fill="#cc3c4c" stroke="#8a2030" stroke-width="0.7"/>
<text x="161.90" y="557.00" font-size="8.21" fill="#2a2a2a" stroke="#2a2a2a" stroke-width="0.2" textLength="14.30" lengthAdjust="spacingAndGlyphs">S(5)</text>
<text x="24.40" y="587.10" font-size="7.99" fill="#2a2a2a" stroke="#2a2a2a" stroke-width="0.2" textLength="70.20" lengthAdjust="spacingAndGlyphs">IgHV-unmutated CLL</text>
<text x="265.10" y="502.70" font-size="8.1" fill="#2a2a2a" stroke="#2a2a2a" stroke-width="0.2" textLength="19.90" lengthAdjust="spacingAndGlyphs">α-IgM</text>
<line x1="293.10" y1="504.30" x2="331.20" y2="504.30" stroke="#222" stroke-width="1.0"/>
<line x1="335.40" y1="504.30" x2="375.80" y2="504.30" stroke="#222" stroke-width="1.0"/>
<text x="312.80" y="502.40" font-size="7.5" text-anchor="middle" fill="#2a2a2a" stroke="#2a2a2a" stroke-width="0.2">–</text>
<text x="355.00" y="503.20" font-size="7.8" text-anchor="middle" fill="#2a2a2a" stroke="#2a2a2a" stroke-width="0.2">+</text>
<text x="264.60" y="528.80" font-size="8.1" fill="#2a2a2a" stroke="#2a2a2a" stroke-width="0.2" textLength="19.60" lengthAdjust="spacingAndGlyphs">siRNA</text>
<text x="298.00" y="529.10" font-size="7.56" fill="#2a2a2a" stroke="#2a2a2a" stroke-width="0.2" textLength="15.20" lengthAdjust="spacingAndGlyphs" transform="rotate(-45 298.00 529.10)">NSC</text>
<text x="320.20" y="529.10" font-size="7.56" fill="#2a2a2a" stroke="#2a2a2a" stroke-width="0.2" textLength="24.40" lengthAdjust="spacingAndGlyphs" transform="rotate(-45 320.20 529.10)">ZAP-70</text>
<text x="342.00" y="529.10" font-size="7.56" fill="#2a2a2a" stroke="#2a2a2a" stroke-width="0.2" textLength="15.20" lengthAdjust="spacingAndGlyphs" transform="rotate(-45 342.00 529.10)">NSC</text>
<text x="364.00" y="529.10" font-size="7.56" fill="#2a2a2a" stroke="#2a2a2a" stroke-width="0.2" textLength="24.40" lengthAdjust="spacingAndGlyphs" transform="rotate(-45 364.00 529.10)">ZAP-70</text>
<text x="383.00" y="529.40" font-size="8.1" fill="#2a2a2a" stroke="#2a2a2a" stroke-width="0.2" textLength="12.50" lengthAdjust="spacingAndGlyphs">kDa</text>
<filter id="bl" x="-30%" y="-100%" width="160%" height="300%"><feGaussianBlur stdDeviation="0.8"/></filter>
<linearGradient id="blotbg" x1="0" y1="0" x2="0" y2="1"><stop offset="0" stop-color="#eeeeee"/><stop offset="1" stop-color="#fafafa"/></linearGradient>
<rect x="288.6" y="532.9" width="87.6" height="26.1" fill="url(#blotbg)"/>
<rect x="288.6" y="568.4" width="87.6" height="25.4" fill="url(#blotbg)"/>
<g filter="url(#bl)">
<rect x="292.00" y="541.00" width="14.40" height="6.00" rx="2.0" fill="#e4e4e4"/>
<rect x="292.00" y="539.10" width="14.40" height="3.40" rx="2.0" fill="#b0b0b0"/>
<rect x="313.40" y="539.30" width="13.80" height="3.00" rx="2.0" fill="#d4d4d4"/>
<rect x="334.60" y="542.50" width="16.00" height="8.00" rx="2.0" fill="#d8d8d8"/>
<rect x="334.40" y="538.20" width="16.40" height="6.20" rx="2.5" fill="#0e0e0e"/>
<rect x="356.20" y="542.50" width="17.00" height="6.00" rx="2.0" fill="#d4d4d4"/>
<rect x="356.00" y="539.20" width="17.40" height="5.60" rx="2.5" fill="#1a1a1a"/>
<rect x="291.80" y="581.40" width="15.60" height="3.20" rx="1.5" fill="#3c3c3c"/>
<g transform="rotate(-4 321.4 582.1)">
<rect x="313.60" y="580.40" width="15.80" height="3.40" rx="1.5" fill="#2c2c2c"/>
</g>
<rect x="335.60" y="579.20" width="15.20" height="3.40" rx="1.5" fill="#242424"/>
<rect x="356.80" y="579.50" width="16.60" height="2.80" rx="1.5" fill="#8e8e8e"/>
</g>
<rect x="288.6" y="532.9" width="87.6" height="26.1" fill="none" stroke="#262626" stroke-width="1.0"/>
<rect x="288.6" y="568.4" width="87.6" height="25.4" fill="none" stroke="#262626" stroke-width="1.0"/>
<text x="284.40" y="545.90" font-size="8.21" text-anchor="end" fill="#2a2a2a" stroke="#2a2a2a" stroke-width="0.2" textLength="41.60" lengthAdjust="spacingAndGlyphs">(Ser5)-LCP1</text>
<text x="284.40" y="584.80" font-size="8.21" text-anchor="end" fill="#2a2a2a" stroke="#2a2a2a" stroke-width="0.2" textLength="17.70" lengthAdjust="spacingAndGlyphs">LCP1</text>
<line x1="376.40" y1="543.30" x2="379.40" y2="543.30" stroke="#222" stroke-width="0.8"/>
<text x="383.40" y="546.00" font-size="8.21" fill="#2a2a2a" stroke="#2a2a2a" stroke-width="0.2" textLength="8.00" lengthAdjust="spacingAndGlyphs">70</text>
<line x1="376.40" y1="581.60" x2="379.40" y2="581.60" stroke="#222" stroke-width="0.8"/>
<text x="383.40" y="584.30" font-size="8.21" fill="#2a2a2a" stroke="#2a2a2a" stroke-width="0.2" textLength="8.00" lengthAdjust="spacingAndGlyphs">70</text>
<text x="480.50" y="488.40" font-size="9.5" text-anchor="middle" fill="#2a2a2a" stroke="#2a2a2a" stroke-width="0.2" textLength="47.30" lengthAdjust="spacingAndGlyphs">(Ser5)-LCP1</text>
<line x1="451.70" y1="495.60" x2="451.70" y2="595.30" stroke="#111" stroke-width="1.1"/>
<line x1="451.20" y1="594.80" x2="513.30" y2="594.80" stroke="#111" stroke-width="1.1"/>
<line x1="448.40" y1="594.80" x2="451.70" y2="594.80" stroke="#111" stroke-width="0.9"/>
<text x="446.20" y="597.60" font-size="8.42" text-anchor="end" fill="#2a2a2a" stroke="#2a2a2a" stroke-width="0.2" textLength="10.90" lengthAdjust="spacingAndGlyphs">0.0</text>
<line x1="448.40" y1="562.10" x2="451.70" y2="562.10" stroke="#111" stroke-width="0.9"/>
<text x="446.20" y="564.90" font-size="8.42" text-anchor="end" fill="#2a2a2a" stroke="#2a2a2a" stroke-width="0.2" textLength="10.90" lengthAdjust="spacingAndGlyphs">0.5</text>
<line x1="448.40" y1="529.40" x2="451.70" y2="529.40" stroke="#111" stroke-width="0.9"/>
<text x="446.20" y="532.20" font-size="8.42" text-anchor="end" fill="#2a2a2a" stroke="#2a2a2a" stroke-width="0.2" textLength="10.90" lengthAdjust="spacingAndGlyphs">1.0</text>
<line x1="448.40" y1="496.70" x2="451.70" y2="496.70" stroke="#111" stroke-width="0.9"/>
<text x="446.20" y="499.50" font-size="8.42" text-anchor="end" fill="#2a2a2a" stroke="#2a2a2a" stroke-width="0.2" textLength="10.90" lengthAdjust="spacingAndGlyphs">1.5</text>
<line x1="469.80" y1="594.80" x2="469.80" y2="597.80" stroke="#111" stroke-width="0.9"/>
<line x1="495.90" y1="594.80" x2="495.90" y2="597.80" stroke="#111" stroke-width="0.9"/>
<rect x="461.2" y="530.0" width="17.2" height="64.3" fill="#8596c6" stroke="#7282b6" stroke-width="0.5"/>
<rect x="487.2" y="560.1" width="17.4" height="34.2" fill="#ee8676" stroke="#dc7262" stroke-width="0.5"/>
<circle cx="464.10" cy="529.70" r="1.70" fill="#dfe4f2" stroke="#2c4a92" stroke-width="0.9"/>
<circle cx="469.60" cy="529.70" r="1.70" fill="#dfe4f2" stroke="#2c4a92" stroke-width="0.9"/>
<circle cx="475.10" cy="529.70" r="1.70" fill="#dfe4f2" stroke="#2c4a92" stroke-width="0.9"/>
<line x1="495.60" y1="554.00" x2="495.60" y2="562.00" stroke="#b0202e" stroke-width="0.8"/>
<line x1="493.20" y1="554.00" x2="498.00" y2="554.00" stroke="#b0202e" stroke-width="0.8"/>
<line x1="493.60" y1="557.60" x2="497.60" y2="557.60" stroke="#c02838" stroke-width="0.8"/>
<path d="M491.60,562.30 L495.00,562.30 L493.30,565.20 z" fill="#b8182a"/>
<path d="M495.90,560.40 L499.30,560.40 L497.60,563.30 z" fill="#b8182a"/>
<path d="M497.90,559.40 L501.30,559.40 L499.60,562.30 z" fill="#b8182a"/>
<path d="M493.50,559.90 L496.90,559.90 L495.20,562.80 z" fill="#b8182a"/>
<line x1="467.70" y1="516.90" x2="498.60" y2="516.90" stroke="#555" stroke-width="1.3"/>
<text x="483.30" y="515.60" font-size="8.2" text-anchor="middle" fill="#2a2a2a" stroke="#2a2a2a" stroke-width="0.2">**</text>
<text x="430.30" y="544.60" font-size="9.07" text-anchor="middle" fill="#2a2a2a" stroke="#2a2a2a" stroke-width="0.3" textLength="105.00" lengthAdjust="spacingAndGlyphs" transform="rotate(-90 430.30 544.60)">Relative protein level (phospho/total)</text>
<text x="462.00" y="614.20" font-size="8.1" fill="#2a2a2a" stroke="#2a2a2a" stroke-width="0.2" textLength="15.80" lengthAdjust="spacingAndGlyphs" transform="rotate(-45 462.00 614.20)">NSC</text>
<text x="476.1" y="626.5" font-size="7.5" fill="#2a2a2a" transform="rotate(-45 476.1 626.5)"><tspan font-size="5.8">si-</tspan>ZAP-70</text>
<rect x="0.5" y="0.5" width="519" height="634" fill="none" stroke="#5c5c5c" stroke-width="1"/>
</svg></body></html>
